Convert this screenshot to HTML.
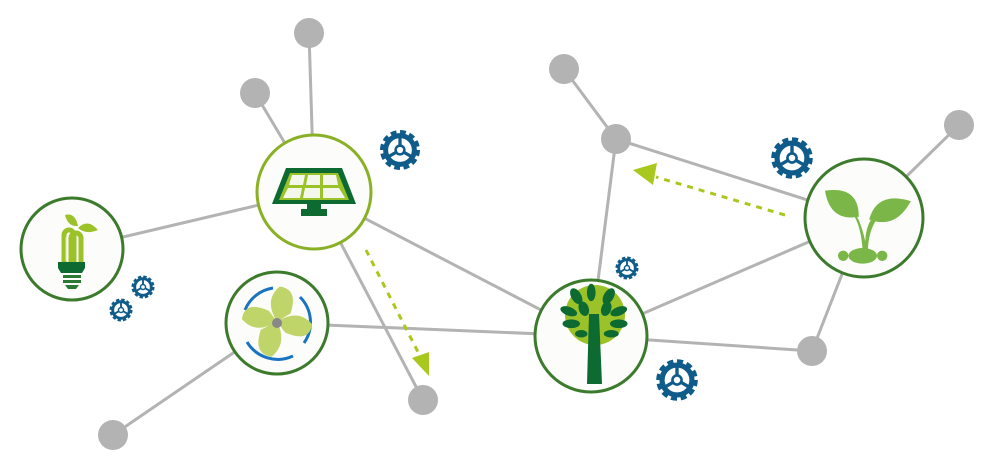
<!DOCTYPE html>
<html><head><meta charset="utf-8"><style>
html,body{margin:0;padding:0;background:#fff;}
svg{display:block;}
</style></head><body>
<svg width="1000" height="470" viewBox="0 0 1000 470" xmlns="http://www.w3.org/2000/svg">
<defs>
<g id="gear">
 <circle r="13" fill="none" stroke="#0f5b8a" stroke-width="6" stroke-dasharray="4.2 2.6"/>
 <circle r="11.5" fill="none" stroke="#0f5b8a" stroke-width="4"/>
 <circle r="3.5" fill="none" stroke="#0f5b8a" stroke-width="2"/>
 <g stroke="#0f5b8a" stroke-width="2.6">
  <line x1="0" y1="-3" x2="0" y2="-11"/>
  <line x1="2.6" y1="1.5" x2="9.5" y2="5.5"/>
  <line x1="-2.6" y1="1.5" x2="-9.5" y2="5.5"/>
 </g>
</g>
</defs>
<g stroke="#b3b3b3" stroke-width="3" fill="none">
 <line x1="314" y1="192" x2="309" y2="33"/>
 <line x1="314" y1="192" x2="255" y2="93"/>
 <line x1="314" y1="192" x2="72" y2="249"/>
 <line x1="314" y1="192" x2="591" y2="336"/>
 <line x1="314" y1="192" x2="423" y2="400"/>
 <line x1="277" y1="323" x2="591" y2="336"/>
 <line x1="277" y1="323" x2="113" y2="435"/>
 <line x1="591" y1="336" x2="616" y2="139"/>
 <line x1="591" y1="336" x2="864" y2="218"/>
 <line x1="591" y1="336" x2="812" y2="351"/>
 <line x1="564" y1="69" x2="616" y2="139"/>
 <line x1="616" y1="139" x2="864" y2="218"/>
 <line x1="864" y1="218" x2="959" y2="125"/>
 <line x1="864" y1="218" x2="812" y2="351"/>
</g>
<g fill="#b3b3b3">
 <circle cx="309" cy="33" r="15"/><circle cx="255" cy="93" r="15"/>
 <circle cx="564" cy="69" r="15"/><circle cx="616" cy="139" r="15"/>
 <circle cx="959" cy="125" r="15"/><circle cx="423" cy="400" r="15"/>
 <circle cx="113" cy="435" r="15"/><circle cx="812" cy="351" r="15"/>
</g>
<g stroke="#a9c81e" stroke-width="3" stroke-dasharray="6 6" fill="none">
 <line x1="366" y1="250" x2="420" y2="356"/>
 <line x1="785" y1="215" x2="656" y2="177"/>
</g>
<polygon points="429,376 412,358 429,352" fill="#a9c81e"/>
<polygon points="633,170 657,163 653,185" fill="#a9c81e"/>
<!-- bulb -->
<circle cx="72" cy="249" r="51" fill="#fcfcfa" stroke="#3c7a2c" stroke-width="3"/>
<path d="M64,262 V235 a5,5 0 0 1 10,0 V262" fill="none" stroke="#9cc22a" stroke-width="5"/>
<path d="M71,262 V238 a5,5 0 0 1 10,0 V262" fill="none" stroke="#9cc22a" stroke-width="5"/>
<path d="M66,261 V237" stroke="#d6e79a" stroke-width="1"/>
<path d="M65,215 q10,-3 13,11 q-10,1 -13,-11z" fill="#9cc22a"/>
<path d="M78,228 q10,-10 20,2 q-12,5 -20,-2z" fill="#9cc22a"/>
<path d="M58,262 h27 v6 l-3,5 h-21 l-3,-5z" fill="#0d6b32"/>
<rect x="63" y="275" width="18" height="3" fill="#2a7a35"/><rect x="63" y="280" width="18" height="3" fill="#2a7a35"/>
<path d="M65,285 h14 l-3,4 h-8z" fill="#2a7a35"/>
<!-- solar -->
<circle cx="314" cy="192" r="57" fill="#fcfcfa" stroke="#8ab026" stroke-width="3"/>
<polygon points="286,168 342,168 356,204 272,204" fill="#0d6b32"/>
<polygon points="290,173 338,173 349,200 279,200" fill="#9cc22a"/>
<g fill="#f4f8ec">
 <polygon points="292,175 305,175 303,185 289,185"/><polygon points="308,175 320,175 320,185 306,185"/><polygon points="323,175 336,175 338,185 323,185"/>
 <polygon points="288,188 302,188 300,198 283,198"/><polygon points="305,188 320,188 320,198 303,198"/><polygon points="323,188 339,188 345,198 323,198"/>
</g>
<rect x="307" y="204" width="14" height="6" fill="#0d6b32"/>
<rect x="301" y="209" width="26" height="7" fill="#0d6b32"/>
<!-- fan -->
<circle cx="277" cy="323" r="51" fill="#fcfcfa" stroke="#3c7a2c" stroke-width="3"/>
<path d="M245,310 A36,36 0 0 1 273,288" fill="none" stroke="#1a73c0" stroke-width="3"/>
<path d="M300,297 A36,36 0 0 1 304,343" fill="none" stroke="#1a73c0" stroke-width="3"/>
<path d="M247,342 A36,36 0 0 0 293,356" fill="none" stroke="#1a73c0" stroke-width="3"/>
<g fill="#bfd56a" transform="translate(277,323) scale(1.35) translate(-277,-323)">
 <path d="M277,322 q-10,-16 2,-26 q14,2 8,20z"/>
 <path d="M277,322 q16,-10 26,2 q-2,14 -20,6z"/>
 <path d="M277,322 q8,16 -4,26 q-14,-2 -8,-20z"/>
 <path d="M277,322 q-16,10 -26,-2 q2,-14 20,-6z"/>
</g>
<circle cx="277" cy="323" r="5" fill="#888"/>
<!-- tree -->
<circle cx="591" cy="336" r="56" fill="#fcfcfa" stroke="#3c7a2c" stroke-width="3"/>
<circle cx="595" cy="315" r="30" fill="#9cc22a"/>
<g fill="#0d6b32" transform="translate(595,315) scale(1.25) translate(-595,-315)">
 <ellipse cx="580" cy="300" rx="4" ry="7" transform="rotate(-30 580 300)"/>
 <ellipse cx="592" cy="297" rx="3.5" ry="7"/>
 <ellipse cx="606" cy="300" rx="4" ry="7" transform="rotate(30 606 300)"/>
 <ellipse cx="574" cy="312" rx="7" ry="3.5" transform="rotate(20 574 312)"/>
 <ellipse cx="614" cy="312" rx="7" ry="3.5" transform="rotate(-20 614 312)"/>
 <ellipse cx="576" cy="322" rx="7" ry="3.5"/>
 <ellipse cx="614" cy="322" rx="7" ry="3.5"/>
 <ellipse cx="584" cy="330" rx="5" ry="3"/>
 <ellipse cx="608" cy="330" rx="6" ry="3"/>
 <ellipse cx="586" cy="310" rx="4" ry="6" transform="rotate(-20 586 310)"/>
 <ellipse cx="604" cy="310" rx="4" ry="6" transform="rotate(20 604 310)"/>
</g>
<path d="M589,314 h10 l3,70 h-15z" fill="#0d6b32"/>
<!-- plant -->
<circle cx="864" cy="218" r="59" fill="#fcfcfa" stroke="#3c7a2c" stroke-width="3"/>
<g fill="#7ab648" transform="translate(864,222) scale(1.3) translate(-864,-222)">
 <path d="M834,198 q26,-4 26,20 q-22,4 -26,-20z"/>
 <path d="M900,206 q-26,-8 -32,14 q20,8 32,-14z"/>
 <path d="M855,215 q7,10 8,30 h4 q0,-14 6,-24 l-3,-2 q-5,8 -5,18 q-3,-14 -8,-22z"/>
 <circle cx="848" cy="248" r="4"/><circle cx="878" cy="248" r="4"/>
 <ellipse cx="863" cy="248" rx="11" ry="6"/>
</g>
<!-- gears -->
<use href="#gear" transform="translate(400,150) scale(1.25)"/>
<use href="#gear" transform="translate(143,287) scale(0.72)"/>
<use href="#gear" transform="translate(121,310) scale(0.72)"/>
<use href="#gear" transform="translate(627,268) scale(0.72)"/>
<use href="#gear" transform="translate(677,380) scale(1.3)"/>
<use href="#gear" transform="translate(792,158) scale(1.3)"/>
</svg>
</body></html>
